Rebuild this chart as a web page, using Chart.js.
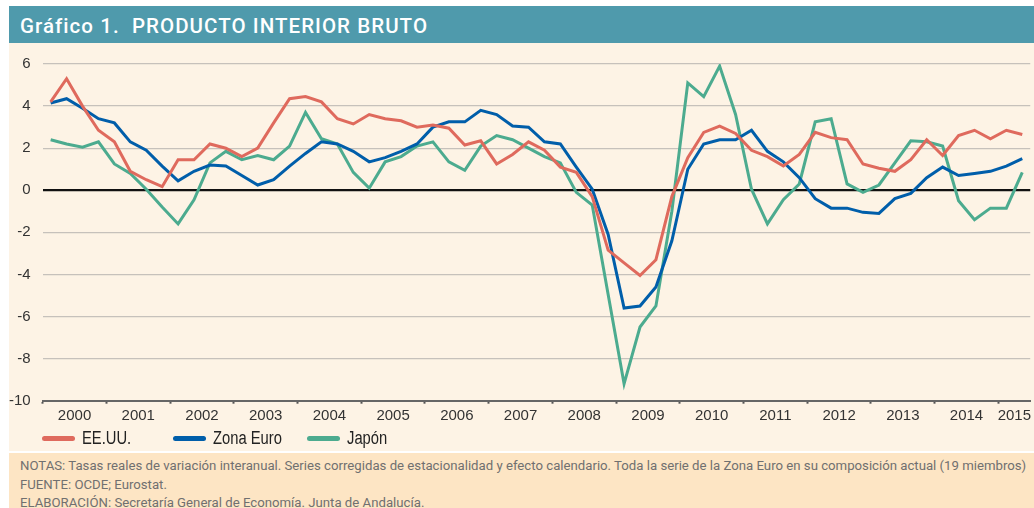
<!DOCTYPE html>
<html lang="es">
<head>
<meta charset="utf-8">
<title>Gráfico 1. Producto interior bruto</title>
<script src="https://cdn.jsdelivr.net/npm/chart.js@4.4.1/dist/chart.umd.min.js"></script>
<style>
  html, body { margin: 0; padding: 0; background: #fff; }
  body { width: 1034px; height: 508px; overflow: hidden; position: relative; }
  #fig { position: absolute; left: 9px; top: 6px; width: 1025px; }
  #head {
    height: 37px; line-height: 40px; background: #4f9aac; color: #fff;
    font-family: Roboto, "Noto Sans", sans-serif; font-size: 20.5px; font-weight: 500;
    letter-spacing: 1.05px; padding-left: 11px; white-space: pre; box-sizing: border-box;
  }
  #plot { position: relative; height: 408px; background: #fdf3e5; }
  #plot canvas { position: absolute; left: 0; top: 0; }
  .leg { position: absolute; top: 384px; height: 22px; line-height: 22px;
    font-family: "Liberation Sans", Arial, sans-serif;
    font-size: 18px; color: #222; white-space: nowrap; }
  .leg i { display: inline-block; width: 33px; height: 5px; border-radius: 3px;
    vertical-align: middle; margin-right: 7px; position: relative; top: -1px; }
  .leg span { display: inline-block; transform: scaleX(0.82); transform-origin: 0 50%; }
  #notes {
    margin-top: 2px; height: 55px; background: #fde5c4; color: #707070;
    font-family: Roboto, "Noto Sans", sans-serif; font-size: 13.2px;
    line-height: 18.5px; padding: 4px 0 0 11px; box-sizing: border-box; white-space: nowrap;
  }
</style>
</head>
<body>
<div id="fig">
  <div id="head">Gráfico 1.  PRODUCTO INTERIOR BRUTO</div>
  <div id="plot">
    <canvas id="pibChart" width="1025" height="387"></canvas>
    <div class="leg" style="left:33px"><i style="background:#df6a5d"></i><span>EE.UU.</span></div>
    <div class="leg" style="left:164px"><i style="background:#005eaa"></i><span>Zona Euro</span></div>
    <div class="leg" style="left:298px"><i style="background:#4cab8f"></i><span>Japón</span></div>
  </div>
  <div id="notes">
    NOTAS: Tasas reales de variación interanual. Series corregidas de estacionalidad y efecto calendario. Toda la serie de la Zona Euro en su composición actual (19 miembros)<br>
    FUENTE: OCDE; Eurostat.<br>
    ELABORACIÓN: Secretaría General de Economía. Junta de Andalucía.
  </div>
</div>

<script>
// años del eje X (datos trimestrales 2000 T1 - 2015 T2)
const years = ['2000', '2001', '2002', '2003', '2004', '2005', '2006', '2007',
               '2008', '2009', '2010', '2011', '2012', '2013', '2014', '2015'];
const quarters = years.flatMap(y => ['T1', 'T2', 'T3', 'T4'].map(q => y + ' ' + q)).slice(0, 62);

// tasas de variación interanual (%)
const eeuu = [
  4.2, 5.3, 4.0, 2.85, 2.3, 0.9, 0.5, 0.17, 1.45, 1.45,
  2.2, 2.0, 1.6, 2.0, 3.2, 4.35, 4.45, 4.2, 3.4, 3.15,
  3.6, 3.4, 3.3, 3.0, 3.1, 2.95, 2.15, 2.35, 1.25, 1.7,
  2.3, 1.9, 1.1, 0.85, -0.3, -2.85, -3.45, -4.05, -3.3, -0.3,
  1.55, 2.75, 3.05, 2.7, 1.9, 1.6, 1.15, 1.7, 2.75, 2.5,
  2.4, 1.25, 1.05, 0.9, 1.45, 2.4, 1.65, 2.6, 2.85, 2.45,
  2.85, 2.65
];
const zonaEuro = [
  4.15, 4.35, 3.9, 3.4, 3.2, 2.3, 1.9, 1.15, 0.45, 0.9,
  1.2, 1.15, 0.7, 0.25, 0.5, 1.15, 1.75, 2.3, 2.2, 1.85,
  1.35, 1.55, 1.85, 2.2, 3.0, 3.25, 3.25, 3.8, 3.6, 3.05,
  3.0, 2.3, 2.2, 1.1, 0.05, -2.1, -5.6, -5.5, -4.6, -2.4,
  1.0, 2.2, 2.4, 2.4, 2.85, 1.85, 1.35, 0.6, -0.4, -0.85,
  -0.85, -1.05, -1.1, -0.4, -0.15, 0.6, 1.1, 0.7, 0.8, 0.9,
  1.15, 1.5
];
const japon = [
  2.4, 2.2, 2.05, 2.3, 1.25, 0.8, 0.05, -0.8, -1.6, -0.45,
  1.3, 1.85, 1.45, 1.65, 1.45, 2.1, 3.7, 2.45, 2.2, 0.85,
  0.1, 1.35, 1.6, 2.1, 2.3, 1.35, 0.95, 2.1, 2.6, 2.4,
  2.0, 1.6, 1.3, -0.1, -0.7, -4.95, -9.2, -6.5, -5.5, -1.0,
  5.1, 4.45, 5.9, 3.6, 0.05, -1.6, -0.45, 0.3, 3.25, 3.4,
  0.3, -0.1, 0.25, 1.3, 2.35, 2.3, 2.1, -0.5, -1.4, -0.85,
  -0.85, 0.85
];

const yTicks = [6, 4, 2, 0, -2, -4, -6, -8, -10];

const tickFont = { family: '"Liberation Sans", Arial, sans-serif', size: 15 };

function toPoints(serie) {
  return serie.map((v, i) => ({ x: i, y: v }));
}

// marcas en el límite de cada año y etiquetas en el centro
const yearBounds = years.map((y, i) => i * 4 - 0.5);
const yearCenters = years.map((y, i) => (i === years.length - 1 ? i * 4 + 0.5 : i * 4 + 1.5));

function isBound(v) { return yearBounds.includes(v); }

const ctx = document.getElementById('pibChart').getContext('2d');
new Chart(ctx, {
  type: 'line',
  data: {
    datasets: [
      { label: 'EE.UU.', data: toPoints(eeuu), borderColor: '#df6a5d' },
      { label: 'Zona Euro', data: toPoints(zonaEuro), borderColor: '#005eaa' },
      { label: 'Japón', data: toPoints(japon), borderColor: '#4cab8f' }
    ]
  },
  options: {
    responsive: false,
    animation: false,
    devicePixelRatio: 1,
    layout: { padding: { top: 16, right: 0, bottom: 2.3, left: 0 } },
    elements: {
      line: { borderWidth: 3, tension: 0, fill: false },
      point: { radius: 0 }
    },
    plugins: { legend: { display: false }, tooltip: { enabled: false } },
    scales: {
      x: {
        type: 'linear',
        min: -0.5,
        max: quarters.length - 0.5,
        afterBuildTicks: axis => {
          axis.ticks = yearBounds.concat(yearCenters).sort((a, b) => a - b).map(v => ({ value: v }));
        },
        ticks: {
          autoSkip: false,
          maxRotation: 0,
          padding: 3,
          color: '#333',
          font: tickFont,
          callback: (v) => isBound(v) ? '' : years[yearCenters.indexOf(v)]
        },
        grid: {
          drawOnChartArea: false,
          tickLength: 3,
          tickWidth: 2,
          tickColor: c => (c.tick && isBound(c.tick.value)) ? '#555' : 'rgba(0,0,0,0)'
        },
        border: { display: true, color: '#666', width: 2 }
      },
      y: {
        min: -10,
        max: 6,
        afterBuildTicks: axis => { axis.ticks = yTicks.map(v => ({ value: v })); },
        afterFit: s => { s.width = 33.7; },
        ticks: { padding: 12, color: '#333', font: tickFont },
        grid: {
          drawTicks: false,
          color: c => c.tick.value === 0 ? '#111' : (c.tick.value === -10 ? '#666' : '#c6c1bb'),
          lineWidth: c => c.tick.value === 0 ? 2.2 : (c.tick.value === -10 ? 2 : 1.3)
        },
        border: { display: false }
      }
    }
  }
});
</script>
</body>
</html>
